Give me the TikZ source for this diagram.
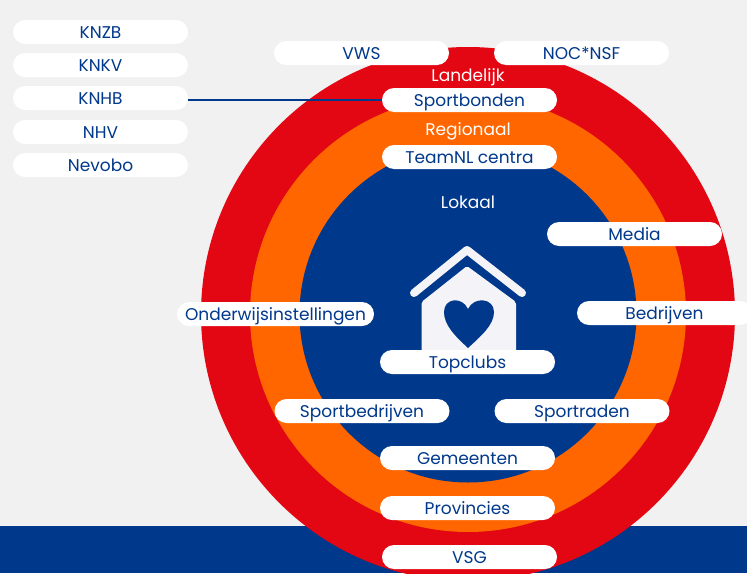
\documentclass[tikz,border=0pt]{standalone}
\usepackage{fontspec}
\setmainfont{Poppins}
\definecolor{achtergrond}{HTML}{F1F1F1}
\definecolor{landelijkrood}{HTML}{E30613}
\definecolor{regioranje}{HTML}{FF6600}
\definecolor{lokaalblauw}{HTML}{00388B}
\definecolor{huiswit}{HTML}{F4F4F8}
\tikzset{
  pil/.style={fill=white, text=lokaalblauw, rounded corners=12pt, minimum width=175pt, minimum height=24pt, inner sep=0pt, text height=14pt, text depth=1pt, font=\fontsize{17}{19}\selectfont},
  ring/.style={text=white, inner sep=0pt, text height=14pt, text depth=1pt, font=\fontsize{17}{19}\selectfont},
}
\begin{document}
\begin{tikzpicture}[x=1pt,y=-1pt]
    \useasboundingbox (0,0) rectangle (747,573);
    \clip (0,0) rectangle (747,573);
    \fill[achtergrond] (0,0) rectangle (747,573);
    \fill[lokaalblauw] (0,526) rectangle (747,573);

    \fill[landelijkrood] (468,314) circle[radius=267];
    \fill[regioranje] (468,314) circle[radius=218];
    \fill[lokaalblauw] (468,314) circle[radius=168.5];

% huisje
    \draw[huiswit, line width=8pt, line cap=round, line join=round] (414,293) -- (467,250) -- (522,293);
    \fill[huiswit, rounded corners=2pt] (421.5,355) -- (421.5,302) -- (467,266) -- (516,302) -- (516,355) -- cycle;
    \fill[lokaalblauw] (468,348) .. controls (455,336) and (444,325) .. (444,312)
        .. controls (444,298) and (462,296) .. (468,309)
        .. controls (474,296) and (494,298) .. (494,312)
        .. controls (494,325) and (481,336) .. (468,348) -- cycle;

    \node[ring] (landelijk) at (468,75) {Landelijk};
    \node[ring] (regionaal) at (468,129) {Regionaal};
    \node[ring] (lokaal) at (468,202) {Lokaal};

    \foreach \naam/\x/\y/\tekst in {knzb/100.5/32/KNZB, knkv/100.5/65/KNKV, knhb/100.5/98/KNHB, nhv/100.5/132/NHV, nevobo/100.5/165/Nevobo,
        vws/361.5/53/VWS, nocnsf/581.5/53/NOC*NSF, sportbonden/469.5/100/Sportbonden, teamnl/469.5/157/TeamNL centra,
        media/634.5/234/Media, bedrijven/664.5/313/Bedrijven, topclubs/467.5/362/Topclubs,
        sportbedrijven/362/411/Sportbedrijven, sportraden/582/411/Sportraden, gemeenten/467.5/458/Gemeenten,
        provincies/467.5/508/Provincies, vsg/469.5/557/VSG}
        \node[pil] (\naam) at (\x,\y) {\tekst};
    \node[pil, minimum width=197pt] (onderwijs) at (275.5,314) {Onderwijsinstellingen};

    \draw[lokaalblauw, line width=2pt] (knhb.east |- sportbonden) -- (sportbonden.west);
\end{tikzpicture}
\end{document}
